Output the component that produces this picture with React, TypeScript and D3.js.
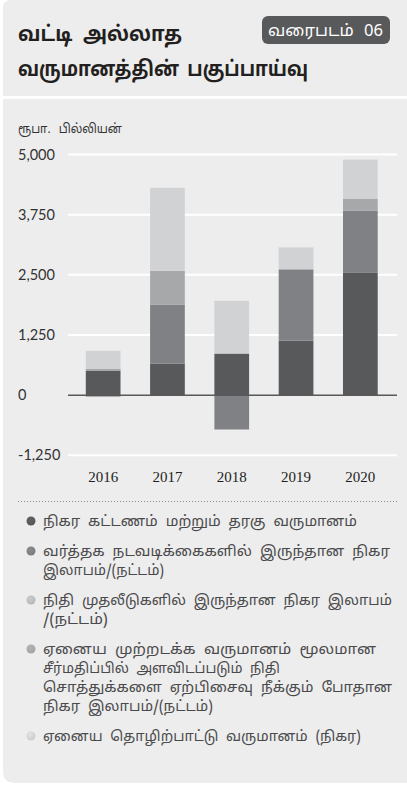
import React from "react";
import * as d3 from "d3";

const categories = ["2016", "2017", "2018", "2019", "2020"];
const feeIncome = [511, 657, 864, 1134, 2540];
const tradingGains = [-30, 1226, -714, 1475, 1294];
const investmentGains = [0, 0, 0, 0, 0];
const ociGains = [40, 700, 0, 20, 250];
const otherIncome = [370, 1724, 1095, 440, 810];
const yTicks = [-1250, 0, 1250, 2500, 3750, 5000];

const seriesKeys = ["fee", "trading", "investment", "oci", "other"];
const seriesColors = ["#58595b", "#808184", "#bcbdbf", "#a7a8aa", "#d1d2d4"];
const legendLines = [
  ["நிகர கட்டணம் மற்றும் தரகு வருமானம்"],
  ["வர்த்தக நடவடிக்கைகளில் இருந்தான நிகர", "இலாபம்/(நட்டம்)"],
  ["நிதி முதலீடுகளில் இருந்தான நிகர இலாபம்", "/(நட்டம்)"],
  [
    "ஏனைய முற்றடக்க வருமானம் மூலமான",
    "சீர்மதிப்பில் அளவிடப்படும் நிதி",
    "சொத்துக்களை ஏற்பிசைவு நீக்கும் போதான",
    "நிகர இலாபம்/(நட்டம்)",
  ],
  ["ஏனைய தொழிற்பாட்டு வருமானம் (நிகர)"],
];
const legendWidths = [[314], [347, 121], [349, 65], [333, 237, 349, 170], [318]];
const legendColors = ["#58595b", "#808184", "#bcbdbf", "#a7a8aa", "#d1d2d4"];

const W = 407;
const H = 787;
const TAMIL = "'Noto Sans Tamil', 'Latha', 'Lohit Tamil', 'Noto Sans', sans-serif";

export default function App() {
  const rows = categories.map((c, i) => ({
    cat: c,
    fee: feeIncome[i],
    trading: tradingGains[i],
    investment: investmentGains[i],
    oci: ociGains[i],
    other: otherIncome[i],
  }));
  const stacked = d3.stack<any>().keys(seriesKeys).offset(d3.stackOffsetDiverging)(rows);

  const x = d3.scaleBand().domain(categories).range([71, 392.5]).paddingInner(0.46).paddingOuter(0.23);
  const y = d3.scaleLinear().domain([-1250, 5000]).range([455.3, 154.5]);
  const fmt = (v: number) => d3.format(",")(v).replace("\u2212", "-");

  const gridX1 = 68;
  const gridX2 = 397;

  let ly = 526;
  const legendItems = legendLines.map((lines, i) => {
    const item = { lines, y: ly, color: legendColors[i], widths: legendWidths[i] };
    ly += lines.length * 19 + 11;
    return item;
  });

  return (
    <svg
      width={W}
      height={H}
      style={{ position: "absolute", left: 0, top: 0, background: "#ffffff" }}
    >
      <defs>
        {legendColors.map((c, i) => (
          <radialGradient key={i} id={`lg${i}`} cx="0.4" cy="0.35" r="0.7">
            <stop offset="0" stopColor={d3.color(c)!.brighter(0.2).formatHex()} />
            <stop offset="1" stopColor={d3.color(c)!.darker(0.1).formatHex()} />
          </radialGradient>
        ))}
      </defs>
      <path d={`M3,8 Q3,0 11,0 L${W},0 L${W},96 L3,96 Z`} fill="#ededed" />
      <path d={`M3,99 L${W},99 L${W},783 L15,783 Q3,783 3,771 Z`} fill="#ededed" />

      <text
        x={18}
        y={41}
        fontFamily={TAMIL}
        fontWeight="bold"
        fontSize={21}
        wordSpacing={6}
        textLength={164}
        lengthAdjust="spacingAndGlyphs"
        fill="#231f20"
      >
        வட்டி அல்லாத
      </text>
      <text
        x={18}
        y={76}
        fontFamily={TAMIL}
        fontWeight="bold"
        fontSize={21}
        wordSpacing={4}
        textLength={290}
        lengthAdjust="spacingAndGlyphs"
        fill="#231f20"
      >
        வருமானத்தின் பகுப்பாய்வு
      </text>
      <rect x={262} y={16} width={128} height={28} rx={6} fill="#58595b" />
      <text
        x={268}
        y={36}
        fontFamily={TAMIL}
        fontSize={16}
        wordSpacing={6}
        textLength={115}
        lengthAdjust="spacingAndGlyphs"
        fill="#ffffff"
      >
        வரைபடம் 06
      </text>

      <text
        x={18}
        y={133}
        fontFamily={TAMIL}
        fontSize={13}
        wordSpacing={6}
        textLength={104}
        lengthAdjust="spacingAndGlyphs"
        fill="#333333"
      >
        ரூபா. பில்லியன்
      </text>

      {yTicks.map((t) => (
        <g key={t}>
          {t !== 0 && (
            <line x1={gridX1} x2={gridX2} y1={y(t)} y2={y(t)} stroke="#ffffff" strokeWidth={2} />
          )}
          <text
            x={18}
            y={y(t)}
            dy="0.35em"
            fontFamily="Lato, 'Open Sans', sans-serif"
            fontSize={14.5}
            fill="#333333"
          >
            {fmt(t)}
          </text>
        </g>
      ))}

      {stacked.map((s, si) => (
        <g key={s.key} fill={seriesColors[si]}>
          {s.map((d, i) => {
            const y0 = y(d[0]);
            const y1 = y(d[1]);
            const h = Math.abs(y0 - y1);
            if (h <= 0) return null;
            return (
              <rect
                key={i}
                x={x(categories[i])}
                width={x.bandwidth()}
                y={Math.min(y0, y1)}
                height={h}
              />
            );
          })}
        </g>
      ))}

      <line x1={gridX1} x2={gridX2} y1={y(0)} y2={y(0)} stroke="#58595b" strokeWidth={1.5} />

      {categories.map((c) => (
        <text
          key={c}
          x={(x(c) as number) + x.bandwidth() / 2}
          y={481.5}
          textAnchor="middle"
          fontFamily="'Liberation Serif', 'DejaVu Serif', serif"
          fontSize={15}
          fill="#231f20"
        >
          {c}
        </text>
      ))}

      <line
        x1={18}
        x2={397}
        y1={501.5}
        y2={501.5}
        stroke="#8a8a8a"
        strokeWidth={1}
        strokeDasharray="1,2"
      />

      {legendItems.map((it, i) => (
        <g key={i}>
          <circle cx={31} cy={it.y - 5} r={4.5} fill={`url(#lg${i})`} />
          {it.lines.map((ln, j) => (
            <text
              key={j}
              x={43}
              y={it.y + j * 19}
              fontFamily={TAMIL}
              fontSize={14.5}
              wordSpacing={4}
              textLength={it.widths[j]}
              lengthAdjust="spacingAndGlyphs"
              fill="#4a4a4c"
            >
              {ln}
            </text>
          ))}
        </g>
      ))}
    </svg>
  );
}
